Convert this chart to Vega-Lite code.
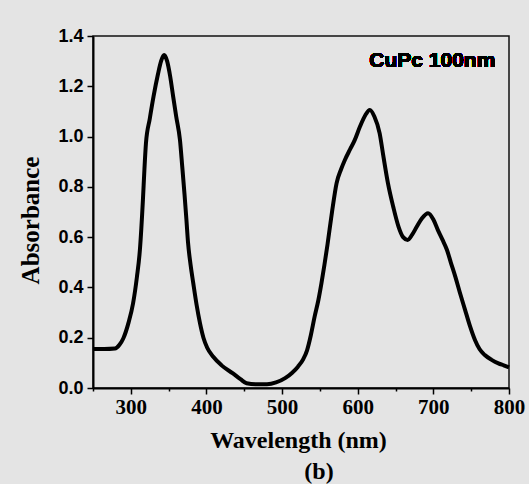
{
  "$schema": "https://vega.github.io/schema/vega-lite/v6.json",
  "width": 416,
  "height": 352,
  "autosize": "none",
  "padding": {"left": 93, "top": 36, "right": 20, "bottom": 96},
  "background": "#e4e4e4",
  "title": {"text": "(b)", "orient": "bottom", "font": "Liberation Serif", "fontSize": 24, "fontWeight": "bold", "color": "#000000", "dx": 18, "offset": 8},
  "config": {
    "view": {"stroke": "#111111", "strokeWidth": 1.5},
    "axis": {"grid": false, "domainColor": "#000000", "domainWidth": 2, "tickColor": "#000000", "tickWidth": 1.5, "labelColor": "#000000", "titleColor": "#000000", "labelFontWeight": "bold", "titleFontWeight": "bold", "labelOverlap": false, "labelFlush": false}
  },
  "resolve": {"axis": {"x": "independent"}},
  "data": {"values": [
    {"w": 250, "a": 0.155}, {"w": 265, "a": 0.155}, {"w": 279, "a": 0.157}, {"w": 285, "a": 0.172},
    {"w": 290, "a": 0.197}, {"w": 297, "a": 0.26}, {"w": 303, "a": 0.337}, {"w": 308, "a": 0.44},
    {"w": 312, "a": 0.549}, {"w": 316, "a": 0.748}, {"w": 318, "a": 0.87}, {"w": 320, "a": 0.973},
    {"w": 325, "a": 1.07}, {"w": 330, "a": 1.159}, {"w": 336, "a": 1.25}, {"w": 340, "a": 1.3},
    {"w": 344, "a": 1.324}, {"w": 348, "a": 1.3}, {"w": 352, "a": 1.24}, {"w": 356, "a": 1.159},
    {"w": 360, "a": 1.08}, {"w": 365, "a": 0.986}, {"w": 368, "a": 0.88}, {"w": 371, "a": 0.77},
    {"w": 373.5, "a": 0.67}, {"w": 375.6, "a": 0.58}, {"w": 379, "a": 0.49}, {"w": 382.6, "a": 0.416},
    {"w": 387, "a": 0.33}, {"w": 391.5, "a": 0.257}, {"w": 396, "a": 0.2}, {"w": 401, "a": 0.16},
    {"w": 409, "a": 0.124}, {"w": 420, "a": 0.09}, {"w": 435, "a": 0.058}, {"w": 445, "a": 0.035},
    {"w": 453, "a": 0.019}, {"w": 465, "a": 0.015}, {"w": 480, "a": 0.015}, {"w": 492, "a": 0.022},
    {"w": 504, "a": 0.039}, {"w": 513, "a": 0.06}, {"w": 521, "a": 0.085}, {"w": 528, "a": 0.115},
    {"w": 533, "a": 0.15}, {"w": 538, "a": 0.21}, {"w": 543, "a": 0.284}, {"w": 548, "a": 0.35},
    {"w": 552, "a": 0.416}, {"w": 556, "a": 0.49}, {"w": 560, "a": 0.57}, {"w": 566, "a": 0.7},
    {"w": 572, "a": 0.814}, {"w": 578, "a": 0.87}, {"w": 583, "a": 0.907}, {"w": 590, "a": 0.95},
    {"w": 596, "a": 0.986}, {"w": 603, "a": 1.04}, {"w": 610, "a": 1.085}, {"w": 616, "a": 1.106},
    {"w": 622, "a": 1.08}, {"w": 629, "a": 1.013}, {"w": 634, "a": 0.92}, {"w": 640, "a": 0.814},
    {"w": 647, "a": 0.72}, {"w": 654, "a": 0.641}, {"w": 660, "a": 0.6}, {"w": 666, "a": 0.589},
    {"w": 672, "a": 0.61}, {"w": 678, "a": 0.641}, {"w": 685, "a": 0.675}, {"w": 693, "a": 0.695},
    {"w": 700, "a": 0.67}, {"w": 706, "a": 0.628}, {"w": 712, "a": 0.59}, {"w": 718, "a": 0.549},
    {"w": 723, "a": 0.5}, {"w": 729, "a": 0.443}, {"w": 735, "a": 0.38}, {"w": 742, "a": 0.31},
    {"w": 748, "a": 0.25}, {"w": 755, "a": 0.191}, {"w": 761, "a": 0.155}, {"w": 768, "a": 0.131},
    {"w": 777, "a": 0.112}, {"w": 786, "a": 0.098}, {"w": 793, "a": 0.09}, {"w": 800, "a": 0.082}
  ]},
  "layer": [
    {
      "mark": {"type": "line", "color": "#000000", "strokeWidth": 4, "interpolate": "monotone", "strokeJoin": "round"},
      "encoding": {
        "x": {"field": "w", "type": "quantitative",
          "scale": {"domain": [250, 800], "nice": false, "zero": false},
          "axis": {
            "orient": "bottom",
            "values": [300, 400, 500, 600, 700, 800],
            "format": "d",
            "tickSize": 6,
            "labelFont": "Liberation Serif", "labelFontSize": 21, "labelPadding": 2,
            "title": "Wavelength (nm)", "titleFont": "Liberation Serif", "titleFontSize": 24,
            "titleX": 205, "titleY": 52, "titleBaseline": "middle", "titleAlign": "center"
          }},
        "y": {"field": "a", "type": "quantitative",
          "scale": {"domain": [0, 1.4], "nice": false},
          "axis": {
            "values": [0, 0.1, 0.2, 0.3, 0.4, 0.5, 0.6, 0.7, 0.8, 0.9, 1.0, 1.1, 1.2, 1.3, 1.4],
            "labelExpr": "round(datum.value * 10) % 2 === 0 ? format(datum.value, '.1f') : ''",
            "tickSize": {"condition": {"test": "round(datum.value * 10) % 2 === 0", "value": 6}, "value": 3},
            "labelFont": "Liberation Sans", "labelFontSize": 18, "labelPadding": 4,
            "title": "Absorbance", "titleFont": "Liberation Serif", "titleFontSize": 25,
            "titleX": -63, "titleY": 184, "titleBaseline": "middle", "titleAlign": "center"
          }}
      }
    },
    {
      "mark": {"type": "text", "text": "CuPc 100nm", "align": "right", "baseline": "middle", "font": "Liberation Sans", "fontSize": 21, "fontWeight": "bold", "color": "#000000"},
      "encoding": {
        "x": {"datum": 782, "axis": {"orient": "bottom", "values": [250, 350, 450, 550, 650, 750], "tickSize": 3, "labels": false, "domain": false, "title": null}},
        "y": {"datum": 1.3}
      }
    }
  ]
}
